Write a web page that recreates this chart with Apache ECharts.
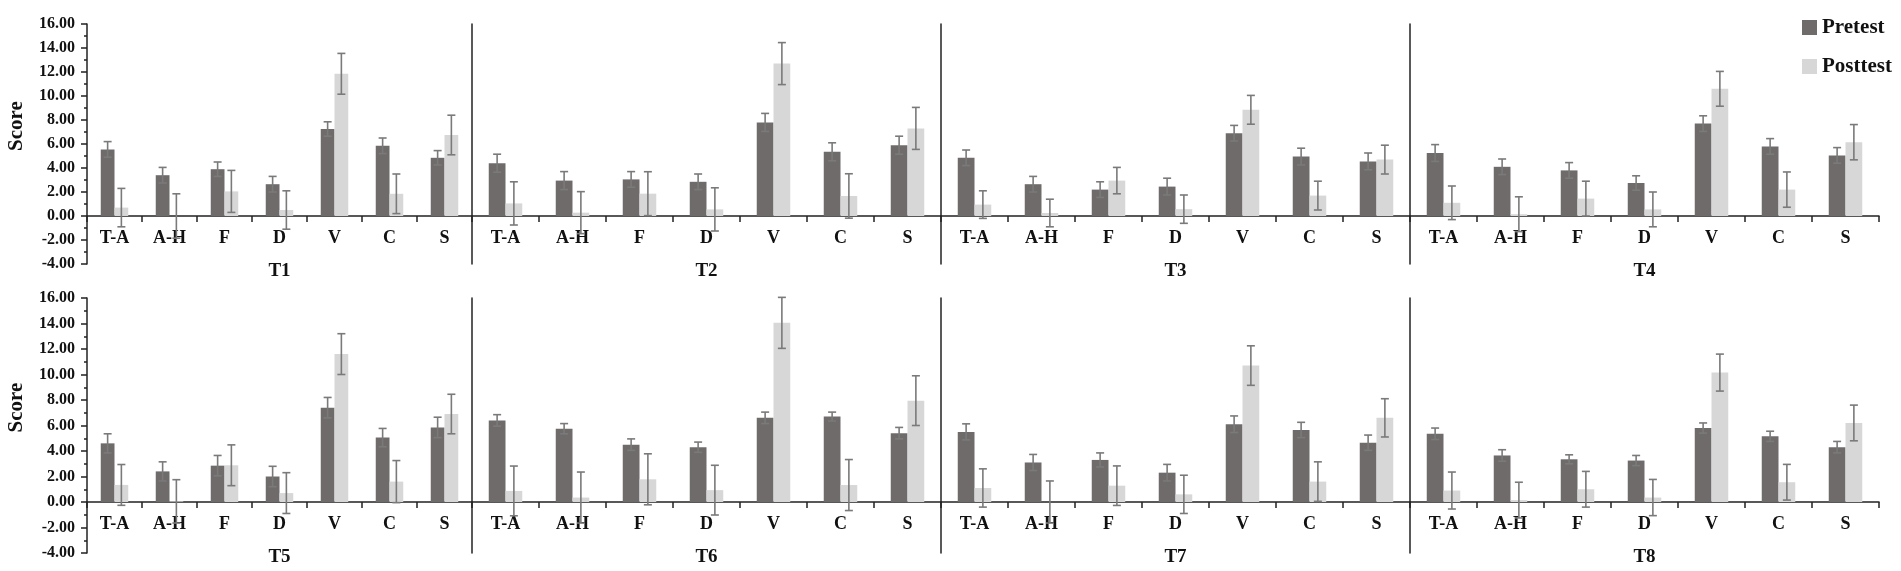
<!DOCTYPE html>
<html>
<head>
<meta charset="utf-8">
<script src="https://cdn.jsdelivr.net/npm/echarts@6/dist/echarts.min.js"></script>
<style>
html, body { margin: 0; padding: 0; background: #fff; }
#chart { width: 1901px; height: 571px; }
</style>
</head>
<body>
<div id="chart"></div>
<script>
// categories and panels
const categories = ['T-A', 'A-H', 'F', 'D', 'V', 'C', 'S'];
const tests = ['T1', 'T2', 'T3', 'T4', 'T5', 'T6', 'T7', 'T8'];

// pretest mean / error per test (rows T1..T8)
const preMean = [
    [5.55, 3.4, 3.9, 2.65, 7.25, 5.85, 4.85],
    [4.4, 2.95, 3.05, 2.85, 7.8, 5.35, 5.9],
    [4.85, 2.65, 2.2, 2.45, 6.9, 4.95, 4.55],
    [5.25, 4.1, 3.8, 2.75, 7.7, 5.8, 5.05],
    [4.6, 2.4, 2.85, 2.0, 7.4, 5.05, 5.85],
    [6.4, 5.75, 4.5, 4.3, 6.6, 6.7, 5.4],
    [5.5, 3.1, 3.3, 2.3, 6.1, 5.65, 4.65],
    [5.35, 3.65, 3.35, 3.25, 5.8, 5.15, 4.3]
];
const preErr = [
    [0.65, 0.65, 0.6, 0.65, 0.6, 0.65, 0.6],
    [0.75, 0.75, 0.65, 0.65, 0.75, 0.75, 0.75],
    [0.65, 0.65, 0.65, 0.7, 0.65, 0.7, 0.7],
    [0.7, 0.65, 0.65, 0.6, 0.65, 0.65, 0.65],
    [0.75, 0.75, 0.8, 0.8, 0.8, 0.72, 0.8],
    [0.45, 0.4, 0.45, 0.4, 0.45, 0.35, 0.45],
    [0.63, 0.63, 0.55, 0.65, 0.65, 0.6, 0.6],
    [0.45, 0.45, 0.35, 0.4, 0.4, 0.4, 0.45]
];

// posttest mean / error per test
const postMean = [
    [0.7, 0.0, 2.05, 0.5, 11.85, 1.85, 6.75],
    [1.05, 0.28, 1.86, 0.55, 12.7, 1.67, 7.3],
    [0.95, 0.25, 2.95, 0.57, 8.85, 1.7, 4.7],
    [1.1, 0.15, 1.45, 0.55, 10.6, 2.2, 6.15],
    [1.34, 0.05, 2.88, 0.7, 11.6, 1.6, 6.9],
    [0.87, 0.35, 1.78, 0.93, 14.05, 1.33, 7.95],
    [1.1, 0.0, 1.28, 0.6, 10.7, 1.6, 6.6],
    [0.9, 0.15, 1.0, 0.35, 10.15, 1.55, 6.2]
];
const postErr = [
    [1.6, 1.85, 1.75, 1.6, 1.7, 1.65, 1.65],
    [1.8, 1.75, 1.83, 1.8, 1.75, 1.85, 1.75],
    [1.15, 1.15, 1.1, 1.18, 1.2, 1.2, 1.2],
    [1.4, 1.45, 1.45, 1.45, 1.45, 1.47, 1.47],
    [1.6, 1.7, 1.6, 1.6, 1.6, 1.65, 1.55],
    [1.95, 2.0, 2.0, 1.95, 2.0, 2.0, 1.95],
    [1.5, 1.65, 1.55, 1.5, 1.55, 1.55, 1.5],
    [1.45, 1.4, 1.4, 1.42, 1.45, 1.4, 1.4]
];

const yMin = -4, yMax = 16, yStep = 2;

const FONT = '"Times New Roman", "Liberation Serif", serif';
const PRE_COLOR = '#6f6b6a';
const POST_COLOR = '#d7d7d7';
const ERR_COLOR = '#7a7a7a';

const colLeft = [87, 472, 941, 1410];
const colWidth = [385, 469, 469, 469];
const rowTop = [24, 298];
const rowHeight = [240, 255];

const chart = echarts.init(document.getElementById('chart'));

const grids = [], xAxes = [], yAxes = [], series = [];

function errorSeries(gi, means, errs, side) {
    return {
        type: 'custom',
        xAxisIndex: gi,
        yAxisIndex: gi,
        z: 10,
        silent: true,
        data: means.map((m, i) => [i, m - errs[i], m + errs[i]]),
        renderItem: function (params, api) {
            const band = api.size([1, 0])[0];
            const lo = api.coord([api.value(0), api.value(1)]);
            const hi = api.coord([api.value(0), api.value(2)]);
            const x = lo[0] + side * band * 0.125;
            const cap = 4;
            const style = { stroke: ERR_COLOR, lineWidth: 1.6 };
            return {
                type: 'group',
                children: [
                    { type: 'line', shape: { x1: x, y1: lo[1], x2: x, y2: hi[1] }, style: style },
                    { type: 'line', shape: { x1: x - cap, y1: hi[1], x2: x + cap, y2: hi[1] }, style: style },
                    { type: 'line', shape: { x1: x - cap, y1: lo[1], x2: x + cap, y2: lo[1] }, style: style }
                ]
            };
        }
    };
}

tests.forEach((name, gi) => {
    const row = Math.floor(gi / 4), col = gi % 4;
    const first = col === 0;
    // distance from the grid bottom (yMin) up to the zero line
    const zeroOffset = rowHeight[row] * (0 - yMin) / (yMax - yMin);
    grids.push({
        left: colLeft[col],
        width: colWidth[col],
        top: rowTop[row],
        height: rowHeight[row],
        containLabel: false
    });
    xAxes.push({
        type: 'category',
        gridIndex: gi,
        position: 'bottom',
        offset: -zeroOffset,
        data: categories,
        axisLine: { onZero: false, lineStyle: { color: '#222', width: 1.5 } },
        axisTick: { show: true, length: 6, lineStyle: { color: '#222', width: 1.5 } },
        axisLabel: {
            interval: 0, margin: 13,
            fontFamily: FONT, fontWeight: 'bold', fontSize: 18, color: '#111'
        },
        name: name,
        nameLocation: 'middle',
        nameGap: 46,
        nameTextStyle: { fontFamily: FONT, fontWeight: 'bold', fontSize: 19, color: '#111', verticalAlign: 'top' }
    });
    yAxes.push({
        type: 'value',
        gridIndex: gi,
        min: yMin,
        max: yMax,
        interval: yStep,
        splitLine: { show: false },
        axisLine: { show: true, lineStyle: { color: '#222', width: 1.5 } },
        axisTick: { show: first, length: 6, lineStyle: { color: '#222', width: 1.5 } },
        minorTick: { show: first, splitNumber: 2, length: 3, lineStyle: { color: '#222', width: 1.5 } },
        axisLabel: {
            show: first, margin: 12,
            formatter: v => v.toFixed(2),
            fontFamily: FONT, fontWeight: 'bold', fontSize: 16, color: '#111'
        },
        name: first ? 'Score' : '',
        nameLocation: 'middle',
        nameRotate: 90,
        nameGap: 60,
        nameTextStyle: { fontFamily: FONT, fontWeight: 'bold', fontSize: 21, color: '#111', padding: [0, 0, 0, 36] }
    });
    series.push({
        name: 'Pretest',
        type: 'bar',
        xAxisIndex: gi,
        yAxisIndex: gi,
        barWidth: '25%',
        barGap: '0%',
        itemStyle: { color: PRE_COLOR },
        data: preMean[gi]
    });
    series.push({
        name: 'Posttest',
        type: 'bar',
        xAxisIndex: gi,
        yAxisIndex: gi,
        barWidth: '25%',
        barGap: '0%',
        itemStyle: { color: POST_COLOR },
        data: postMean[gi]
    });
    series.push(errorSeries(gi, preMean[gi], preErr[gi], -1));
    series.push(errorSeries(gi, postMean[gi], postErr[gi], 1));
});

chart.setOption({
    animation: false,
    backgroundColor: '#fff',
    legend: {
        data: ['Pretest', 'Posttest'],
        orient: 'vertical',
        left: 1797,
        top: 12,
        icon: 'rect',
        itemWidth: 15,
        itemHeight: 15,
        itemGap: 18,
        textStyle: { fontFamily: FONT, fontWeight: 'bold', fontSize: 21, color: '#111' }
    },
    grid: grids,
    xAxis: xAxes,
    yAxis: yAxes,
    series: series
});
</script>
</body>
</html>
